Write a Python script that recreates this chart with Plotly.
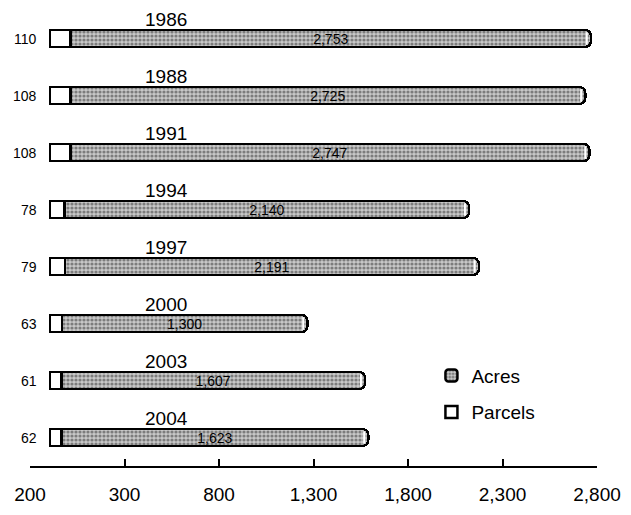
import plotly.graph_objects as go

# Conservation survey totals by year
years = ["1986", "1988", "1991", "1994", "1997", "2000", "2003", "2004"]
parcels = [110, 108, 108, 78, 79, 63, 61, 62]
acres = [2753, 2725, 2747, 2140, 2191, 1300, 1607, 1623]

tick_vals = [-200, 300, 800, 1300, 1800, 2300, 2800]
tick_text = ["200", "300", "800", "1,300", "1,800", "2,300", "2,800"]

FONT = "Liberation Sans, Arial, sans-serif"
totals = [p + a for p, a in zip(parcels, acres)]
acre_labels = [f"{a:,}" for a in acres]

fig = go.Figure()

fig.add_trace(go.Bar(
    name="Parcels", y=years, x=parcels, orientation="h",
    width=0.3, legend="legend2",
    marker=dict(color="white", line=dict(color="black", width=2.5)),
    hoverinfo="x+name",
))

fig.add_trace(go.Bar(
    name="Acres", y=years, x=acres, orientation="h",
    width=0.3, legend="legend",
    text=acre_labels, textposition="inside", insidetextanchor="middle",
    textangle=0, constraintext="none",
    textfont=dict(family=FONT, size=14, color="black"),
    marker=dict(
        color="#a8a8a8",
        line=dict(color="black", width=2.5),
        cornerradius=6,
        pattern=dict(shape=".", size=4, solidity=0.5,
                     fgcolor="#303030", bgcolor="#c8c8c8", fillmode="overlay"),
    ),
    hoverinfo="x+name",
))

# Cylinder end caps
fig.add_trace(go.Scatter(
    x=[t - 22 for t in totals], y=years, mode="markers",
    marker=dict(symbol="line-ns", size=9, line=dict(color="white", width=2)),
    showlegend=False, hoverinfo="skip",
))

# Empty trace so the printed value axis gets drawn
fig.add_trace(go.Scatter(x=[], y=[], xaxis="x2", yaxis="y",
                         showlegend=False, hoverinfo="skip"))

# Year captions above each bar and parcel counts at the left
for i, (yr, p) in enumerate(zip(years, parcels)):
    fig.add_annotation(x=0.24, xref="paper", xanchor="center",
                       y=i, yref="y", yshift=19,
                       text=yr, showarrow=False,
                       font=dict(family=FONT, size=19, color="black"))
    fig.add_annotation(x=0.016, xref="paper", xanchor="right",
                       y=i, yref="y",
                       text=str(p), showarrow=False,
                       font=dict(family=FONT, size=14, color="black"))

legend_style = dict(xanchor="left", yanchor="top", x=0.708,
                    font=dict(family=FONT, size=19, color="black"),
                    bgcolor="rgba(0,0,0,0)")

fig.update_layout(
    width=631, height=515,
    margin=dict(l=30, r=29, t=10, b=47),
    paper_bgcolor="white", plot_bgcolor="white",
    barmode="stack",
    uniformtext=dict(minsize=14, mode="show"),
    showlegend=True,
    legend=dict(y=0.240, **legend_style),
    legend2=dict(y=0.160, **legend_style),
    # bar scale (cylinders sit slightly offset from the printed axis)
    xaxis=dict(range=[-105, 2895], showticklabels=False, ticks="",
               showline=False, showgrid=False, zeroline=False),
    # printed value axis
    xaxis2=dict(range=[-200, 2800], overlaying="x", anchor="y", side="bottom",
                tickvals=tick_vals, ticktext=tick_text,
                ticks="inside", ticklen=7, tickwidth=1.5, tickcolor="black",
                showline=True, linecolor="black", linewidth=1.5,
                showgrid=False, zeroline=False, ticklabelstandoff=10,
                tickfont=dict(family=FONT, size=19, color="black")),
    yaxis=dict(type="category", categoryorder="array", categoryarray=years,
               range=[len(years) - 0.5, -0.5], showticklabels=False,
               showgrid=False, zeroline=False, showline=False, ticks=""),
)

fig.write_html("out.html")
